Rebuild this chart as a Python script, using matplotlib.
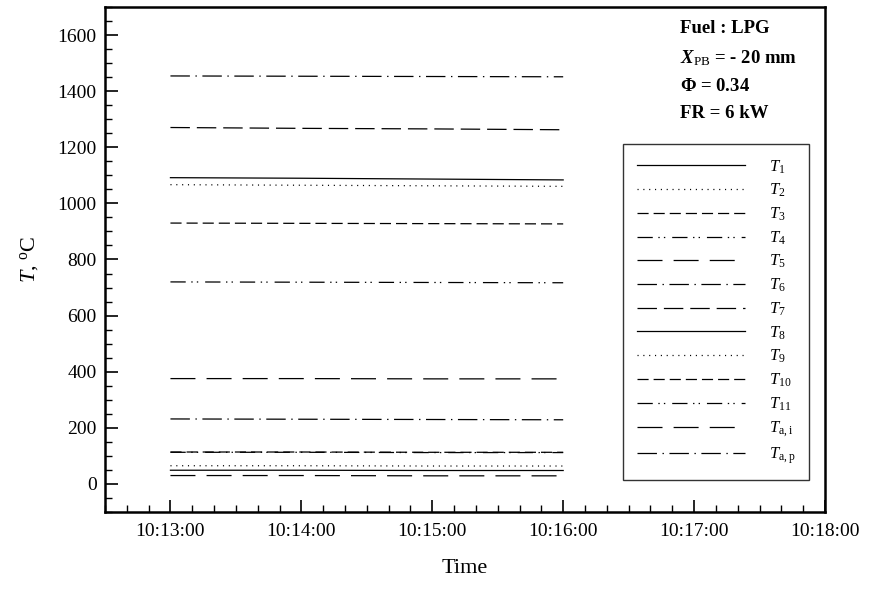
import datetime as dt
import matplotlib
matplotlib.use("Agg")
import matplotlib.pyplot as plt
import matplotlib.dates as mdates
from matplotlib.ticker import MultipleLocator

plt.rcParams["font.family"] = ["Liberation Serif", "DejaVu Serif"]
plt.rcParams["mathtext.fontset"] = "custom"
plt.rcParams["mathtext.rm"] = "Liberation Serif"
plt.rcParams["mathtext.it"] = "Liberation Serif:italic"
plt.rcParams["mathtext.bf"] = "Liberation Serif:bold"
plt.rcParams["mathtext.bfit"] = "Liberation Serif:italic:bold"
plt.rcParams["lines.scale_dashes"] = False

# sample times (one reading per minute)
times = ["10:13:00", "10:14:00", "10:15:00", "10:16:00"]

# thermocouple readings, deg C
T1 = [1092, 1090, 1087, 1084]
T2 = [1067, 1065, 1063, 1061]
T3 = [930, 929, 928, 927]
T4 = [720, 719, 718, 717]
T5 = [375, 375, 374, 374]
T6 = [231, 230, 229, 228]
T7 = [1271, 1268, 1266, 1263]
T8 = [48, 48, 47, 47]
T9 = [64, 64, 63, 63]
T10 = [113, 113, 112, 112]
T11 = [112, 112, 111, 111]
Ta_i = [29, 29, 28, 28]
Ta_p = [1455, 1454, 1453, 1452]

labels = [r"$T_1$", r"$T_2$", r"$T_3$", r"$T_4$", r"$T_5$", r"$T_6$", r"$T_7$",
          r"$T_8$", r"$T_9$", r"$T_{10}$", r"$T_{11}$",
          r"$T_{\mathrm{a,i}}$", r"$T_{\mathrm{a,p}}$"]
series = [T1, T2, T3, T4, T5, T6, T7, T8, T9, T10, T11, Ta_i, Ta_p]

solid = "-"
dotted = (0, (0.8, 3.4))
dashed = (0, (8, 3.6))
dashdotdot = (0, (11, 4, 1, 3, 1, 5))
longdash = (0, (18, 8))
dashdot = (0, (14, 4, 1, 4))
meddash = (0, (14, 5))
styles = [solid, dotted, dashed, dashdotdot, longdash, dashdot, meddash,
          solid, dotted, dashed, dashdotdot, longdash, dashdot]

day = dt.date(2000, 1, 1)
x = [dt.datetime.combine(day, dt.datetime.strptime(t, "%H:%M:%S").time()) for t in times]

fig = plt.figure(figsize=(8.72, 5.93), dpi=100)
ax = fig.add_axes([0.1204, 0.1371, 0.8257, 0.8506])

for y, lab, ls in zip(series, labels, styles):
    ax.plot(x, y, color="black", lw=0.9, linestyle=ls, label=lab)

ax.set_xlim(dt.datetime(2000, 1, 1, 10, 12, 30), dt.datetime(2000, 1, 1, 10, 18, 0))
ax.set_ylim(-100, 1700)

ax.xaxis.set_major_locator(mdates.MinuteLocator())
ax.xaxis.set_minor_locator(mdates.SecondLocator(bysecond=range(0, 60, 10)))
ax.xaxis.set_major_formatter(mdates.DateFormatter("%H:%M:%S"))
ax.yaxis.set_major_locator(MultipleLocator(200))
ax.yaxis.set_minor_locator(MultipleLocator(50))

ax.tick_params(which="both", direction="in", top=False, right=False, labelsize=14)
ax.tick_params(which="major", length=9, width=1.2)
ax.tick_params(which="minor", length=5, width=1.0)
ax.tick_params(axis="x", pad=8)
ax.tick_params(axis="y", pad=6)
for s in ax.spines.values():
    s.set_linewidth(1.8)

ax.set_xlabel("Time", fontsize=16, labelpad=14)
ax.set_ylabel(r"$T$, $^{\mathrm{o}}$C", fontsize=16, labelpad=12)

info = ["Fuel : LPG", r"$\mathbfit{X}_{\mathrm{PB}}$ = - 20 mm",
        r"$\mathbf{\Phi}$ = 0.34", "FR = 6 kW"]
info_y = [0.957, 0.899, 0.843, 0.790]
for txt, ty in zip(info, info_y):
    ax.text(0.7986, ty, txt, transform=ax.transAxes,
            fontsize=13.5, fontweight="bold", va="center", ha="left")

leg = ax.legend(loc="upper left", bbox_to_anchor=(0.719, 0.729), borderaxespad=0,
                fontsize=12, handlelength=6.5, handletextpad=1.4, labelspacing=0.38,
                borderpad=0.85, fancybox=False, frameon=True)
leg.get_frame().set_edgecolor("black")
leg.get_frame().set_linewidth(1.0)

fig.savefig("out.png", dpi=100)
